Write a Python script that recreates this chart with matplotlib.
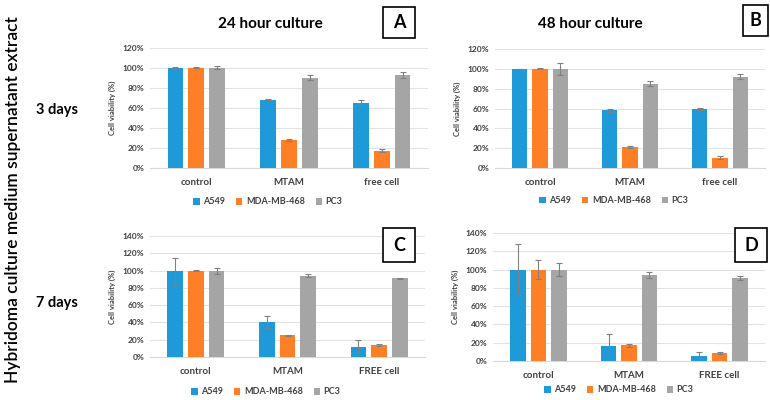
import matplotlib
matplotlib.use("Agg")
import matplotlib.pyplot as plt
from matplotlib.patches import Rectangle
import numpy as np

plt.rcParams['font.family'] = ['Lato', 'DejaVu Sans']

series = ["A549", "MDA-MB-468", "PC3"]
colors = ["#1E9AD9", "#FF7F27", "#A5A5A5"]

cats_top = ["control", "MTAM", "free cell"]
cats_bot = ["control", "MTAM", "FREE cell"]

# panel A: 24 hour culture, 3 days
A_vals = [[100, 68, 65], [100, 28, 17], [100, 90, 93]]
A_err = [[0.5, 0.5, 2.5], [0.5, 1.0, 1.5], [1.5, 2.5, 3.0]]
# panel B: 48 hour culture, 3 days
B_vals = [[100, 58, 59.5], [100, 21, 10.5], [100, 85, 92]]
B_err = [[0.3, 1.5, 1.5], [0.5, 1.0, 1.5], [6.0, 2.5, 2.5]]
# panel C: 24 hour culture, 7 days
C_vals = [[100, 40, 12], [100, 25, 14], [100, 94, 91]]
C_err = [[15, 7, 7.5], [0.5, 0.5, 0.8], [3.5, 1.5, 0.5]]
# panel D: 48 hour culture, 7 days
D_vals = [[100, 16, 6], [100, 17, 9], [100, 94, 91]]
D_err = [[28, 14, 4], [10, 1.5, 1], [7, 3.5, 2]]

W, H = 770, 400
fig = plt.figure(figsize=(7.7, 4.0), dpi=100)

def px_axes(x0, x1, ytop, ybot):
    return fig.add_axes([x0 / W, 1 - ybot / H, (x1 - x0) / W, (ybot - ytop) / H])

def panel(ax, vals, errs, cats, ymax, leg_cx, leg_y, letter_box):
    x = np.arange(len(cats))
    width = 0.17
    pitch = 0.226
    for i, (v, e) in enumerate(zip(vals, errs)):
        ax.bar(x + (i - 1) * pitch, v, width=width, color=colors[i], label=series[i],
               yerr=e, error_kw=dict(ecolor="#808080", elinewidth=0.8, capsize=2, capthick=0.8),
               zorder=3)
    ax.set_xlim(-0.5, len(cats) - 0.5)
    ax.set_ylim(0, ymax)
    ticks = np.arange(0, ymax + 1, 20)
    ax.set_yticks(ticks)
    ax.set_yticklabels([f"{t}%" for t in ticks], fontsize=6, fontweight="bold", color="#404040")
    ax.set_xticks(x)
    ax.set_xticklabels(cats, fontsize=7, fontweight="bold", color="#404040")
    ax.tick_params(axis="both", length=0)
    ax.tick_params(axis="x", pad=7)
    ax.tick_params(axis="y", pad=4)
    ax.grid(axis="y", color="#E3E3E3", linewidth=0.8, zorder=0)
    for s in ["top", "right", "left"]:
        ax.spines[s].set_visible(False)
    ax.spines["bottom"].set_color("#D9D9D9")
    ax.set_ylabel("Cell viability (%)", fontsize=5.5, fontweight="bold", color="#404040", labelpad=5)
    leg = fig.legend(*ax.get_legend_handles_labels(), loc="center",
                     bbox_to_anchor=(leg_cx / W, 1 - leg_y / H), ncol=3, frameon=False,
                     fontsize=6.5, handlelength=0.7, handleheight=0.7, handletextpad=0.4,
                     columnspacing=1.2, prop=dict(weight="bold", size=6.5))
    for t in leg.get_texts():
        t.set_color("#404040")
    bx0, by0, bx1, by1, letter = letter_box
    fig.patches.append(Rectangle((bx0 / W, 1 - by1 / H), (bx1 - bx0) / W, (by1 - by0) / H,
                                 transform=fig.transFigure, fill=True, facecolor="white",
                                 edgecolor="black", linewidth=1.2, zorder=5))
    fig.text((bx0 + bx1) / 2 / W, 1 - (by0 + by1) / 2 / H, letter, ha="center", va="center",
             fontsize=13, fontweight="bold", zorder=6)

axA = px_axes(150, 428, 48, 168)
panel(axA, A_vals, A_err, cats_top, 120, 268, 202, (383, 7, 415, 38, "A"))
axB = px_axes(495, 765, 49, 168)
panel(axB, B_vals, B_err, cats_top, 120, 614, 201, (743, 5, 768, 36, "B"))
axC = px_axes(150, 425, 236, 357)
panel(axC, C_vals, C_err, cats_bot, 140, 266, 392, (383, 228, 415, 262, "C"))
axD = px_axes(493, 765, 233, 361)
panel(axD, D_vals, D_err, cats_bot, 140, 619, 390, (735, 228, 767, 262, "D"))

fig.text(270 / W, 1 - 24 / H, "24 hour culture", ha="center", va="center", fontsize=11, fontweight="bold")
fig.text(590 / W, 1 - 24 / H, "48 hour culture", ha="center", va="center", fontsize=11, fontweight="bold")
fig.text(13 / W, 0.5, "Hybridoma culture medium supernatant extract", rotation=90,
         ha="center", va="center", fontsize=12.5, fontweight="semibold")
fig.text(57 / W, 1 - 110 / H, "3 days", ha="center", va="center", fontsize=10.5, fontweight="bold")
fig.text(57 / W, 1 - 303 / H, "7 days", ha="center", va="center", fontsize=10.5, fontweight="bold")

fig.savefig("out.png", dpi=100)
